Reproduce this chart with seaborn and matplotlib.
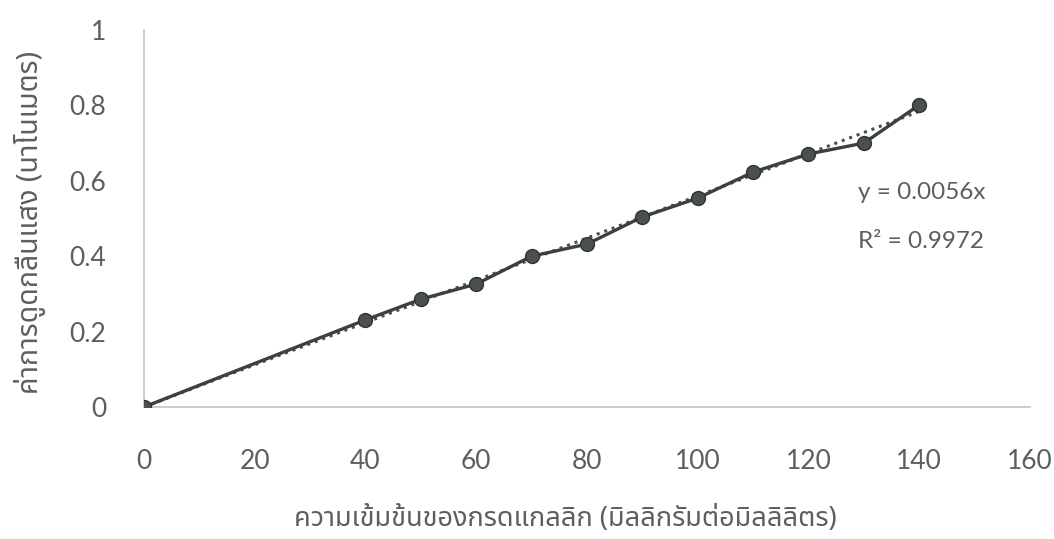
import numpy as np
import pandas as pd
import seaborn as sns
import matplotlib
matplotlib.use("Agg")
import matplotlib.pyplot as plt
from matplotlib import font_manager
from matplotlib.ft2font import FT2Font
from matplotlib.ticker import FuncFormatter

# Gallic acid standard curve: concentration (mg/mL) vs absorbance
concentration = [0, 40, 50, 60, 70, 80, 90, 100, 110, 120, 130, 140]
absorbance = [0.0, 0.231, 0.286, 0.326, 0.400, 0.432, 0.504, 0.554, 0.623, 0.671, 0.700, 0.801]

# Linear trendline through the origin, as stated in the annotation
slope = 0.0056
r_squared = 0.9972

x_ticks = [0, 20, 40, 60, 80, 100, 120, 140, 160]
y_ticks = [0, 0.2, 0.4, 0.6, 0.8, 1.0]

x_label = "ความเข้มข้นของกรดแกลลิก (มิลลิกรัมต่อมิลลิลิตร)"
y_label = "ค่าการดูดกลืนแสง (นาโนเมตร)"

sns.set_theme(style="white")


def thai_family():
    """Return an installed family that has Thai glyphs, if any."""
    found = []
    for fe in font_manager.fontManager.ttflist:
        try:
            cmap = FT2Font(fe.fname).get_charmap()
        except Exception:
            continue
        if 0x0E04 in cmap and 0x0E32 in cmap:
            found.append(fe.name)
    for name in ["Noto Sans Thai", "Noto Sans Thai UI", "Loma", "Garuda", "Sarabun"]:
        if name in found:
            return name
    return found[0] if found else None


latin = ["Lato", "DejaVu Sans"]
thai = thai_family()
label_family = ([thai] if thai else []) + latin
plt.rcParams["font.family"] = latin

fig = plt.figure(figsize=(10.54, 5.39), dpi=100)
ax = fig.add_axes([0.1366, 0.2449, 0.8406, 0.6995])

df = pd.DataFrame({"conc": concentration, "abs": absorbance})
trend = pd.DataFrame({"conc": [0, max(concentration)]})
trend["abs"] = slope * trend["conc"]

sns.lineplot(data=trend, x="conc", y="abs", ax=ax, color="#4a4f4f",
             linestyle=(0, (1, 1.6)), linewidth=2.2, zorder=2)
sns.lineplot(data=df, x="conc", y="abs", ax=ax, color="#3b4040",
             linewidth=2.4, marker="o", markersize=10,
             markerfacecolor="#4a4f50", markeredgecolor="#2f3434",
             markeredgewidth=1.0, zorder=3)

ax.set_xlim(0, 160)
ax.set_ylim(0, 1)
ax.set_xticks(x_ticks)
ax.set_yticks(y_ticks)
ax.xaxis.set_major_formatter(FuncFormatter(lambda v, p: f"{v:g}"))
ax.yaxis.set_major_formatter(FuncFormatter(lambda v, p: f"{v:g}"))

tick_color = "#5a5f5f"
ax.tick_params(axis="x", length=0, pad=30, labelsize=19, labelcolor=tick_color)
ax.tick_params(axis="y", length=0, pad=27, labelsize=19, labelcolor=tick_color)

sns.despine(ax=ax)
for side in ["left", "bottom"]:
    ax.spines[side].set_color("#c4c4c4")
    ax.spines[side].set_linewidth(1.2)
    ax.spines[side].set_zorder(1)
ax.grid(False)

ax.set_xlabel(x_label, fontsize=19.5, color=tick_color, family=label_family)
ax.set_ylabel(y_label, fontsize=20.5, color=tick_color, family=label_family)
ax.xaxis.set_label_coords(0.476, -0.26)
ax.yaxis.set_label_coords(-0.111, 0.49)

ax.text(0.806, 0.57, f"y = {slope}x", transform=ax.transAxes,
        fontsize=17.5, color=tick_color, ha="left", va="center")
ax.text(0.806, 0.44, f"R² = {r_squared}", transform=ax.transAxes,
        fontsize=17.5, color=tick_color, ha="left", va="center")

fig.savefig("out.png", dpi=100, facecolor="white")
